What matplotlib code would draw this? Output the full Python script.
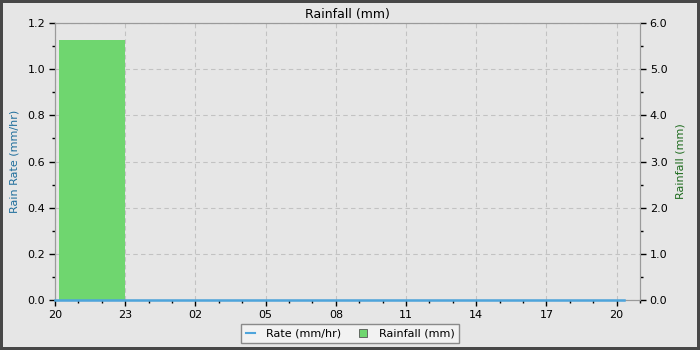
import matplotlib
matplotlib.use("Agg")
import matplotlib.pyplot as plt
from matplotlib.ticker import MultipleLocator, FuncFormatter
from matplotlib.lines import Line2D
from matplotlib.patches import Patch

# hours after 20:00
rate_hours = [0, 3, 6, 9, 12, 15, 18, 21, 24.3]
rate_mmhr = [0, 0, 0, 0, 0, 0, 0, 0, 0]

rain_start = [0.15]
rain_width = [2.85]
rain_mm = [5.63]

start_hour = 20
tick_hours = [0, 3, 6, 9, 12, 15, 18, 21, 24]

bg = "#e6e6e6"
spine_col = "#9a9a9a"
rate_col = "#4ea5dc"
rain_col = "#6fd66f"

fig = plt.figure(figsize=(7, 3.5), dpi=100, facecolor=bg,
                 edgecolor="#474747", linewidth=3)
ax = fig.add_axes([0.0786, 0.143, 0.8357, 0.791])
ax.set_facecolor(bg)
ax2 = ax.twinx()
ax3 = ax.twinx()

# grid on the bottom layer
ax.grid(True, color="#c2c2c2", linestyle=(0, (4, 3)), linewidth=0.8)
ax.set_axisbelow(True)

ax2.bar(rain_start, rain_mm, width=rain_width, align="edge",
        color=rain_col, linewidth=0, zorder=2)
ax3.plot(rate_hours, rate_mmhr, color=rate_col, linewidth=1.8,
         clip_on=False, zorder=5)

ax.set_xlim(0, 25)
ax.set_ylim(0, 1.2)
ax3.set_ylim(0, 1.2)
ax2.set_ylim(0, 6.0)
ax3.axis("off")

ax.set_xticks(tick_hours)
ax.xaxis.set_major_formatter(
    FuncFormatter(lambda v, p: "%02d" % ((start_hour + int(v)) % 24)))
ax.xaxis.set_minor_locator(MultipleLocator(1))
ax.yaxis.set_major_locator(MultipleLocator(0.2))
ax.yaxis.set_minor_locator(MultipleLocator(0.1))
ax.yaxis.set_major_formatter(FuncFormatter(lambda v, p: "%.1f" % v))
ax2.yaxis.set_major_locator(MultipleLocator(1.0))
ax2.yaxis.set_minor_locator(MultipleLocator(0.5))
ax2.yaxis.set_major_formatter(FuncFormatter(lambda v, p: "%.1f" % v))

for a in (ax, ax2):
    for s in a.spines.values():
        s.set_color(spine_col)
    a.tick_params(which="major", length=4, width=1, labelsize=8,
                  color="black", pad=3)
    a.tick_params(which="minor", length=2.5, width=1, color="black")

ax.set_ylabel("Rain Rate (mm/hr)", color="#1f6e9c", fontsize=8, labelpad=6)
ax2.set_ylabel("Rainfall (mm)", color="#1e6b1e", fontsize=8, labelpad=6)
ax.set_title("Rainfall (mm)", fontsize=9, pad=4)

handles = [Line2D([0], [0], color=rate_col, linewidth=1.5),
           Patch(facecolor=rain_col, edgecolor="#555555", linewidth=0.6)]
leg = fig.legend(handles, ["Rate (mm/hr)", "Rainfall (mm)"],
                 loc="lower center", bbox_to_anchor=(0.5, 0.003), ncol=2,
                 fontsize=8, frameon=True, fancybox=False,
                 handlelength=0.8, handleheight=0.8, columnspacing=1.6,
                 borderpad=0.4, handletextpad=1.0)
leg.get_frame().set_facecolor("#f2f2f2")
leg.get_frame().set_edgecolor("#8a8a8a")
leg.get_frame().set_alpha(1)

fig.savefig("out.png", dpi=100)
